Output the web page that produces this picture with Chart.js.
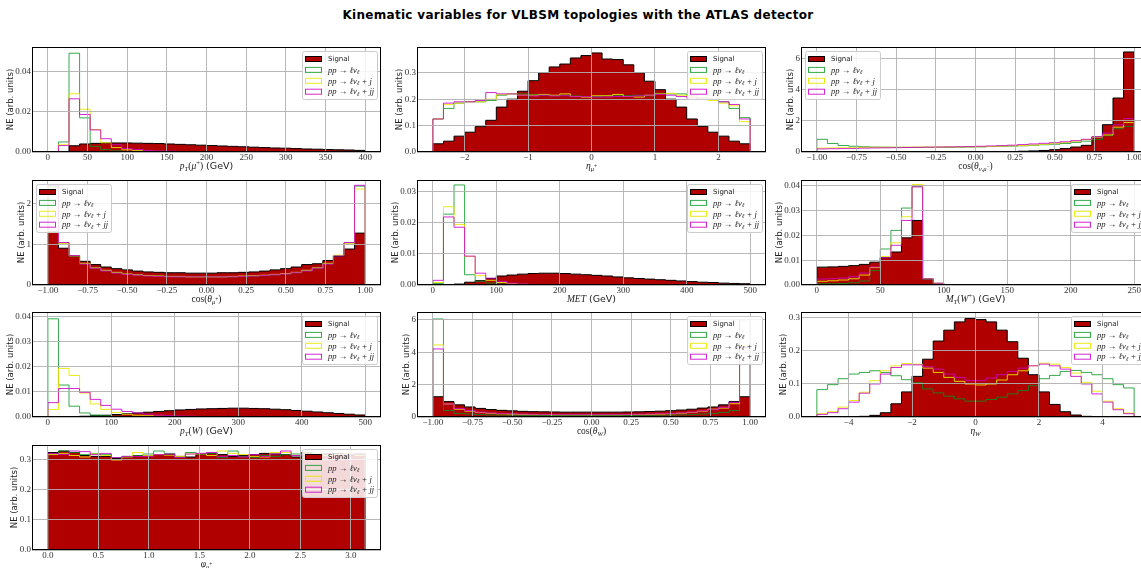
<!DOCTYPE html>
<html lang="en">
<head>
    <meta charset="UTF-8">
    <title>Kinematic variables for VLBSM topologies</title>
    <script src="https://cdn.jsdelivr.net/npm/chart.js"></script>
    <style>
        body { margin: 0; background: #fff; width: 1141px; height: 568px; overflow: hidden; position: relative; }
        h1 {
            position: absolute; left: 0; top: 7px; width: 1156px; margin: 0;
            text-align: center; font: bold 12px "DejaVu Sans", sans-serif; letter-spacing: 0.3px;
            line-height: 17px; color: #000;
        }
    </style>
</head>
<body>
<h1>Kinematic variables for VLBSM topologies with the ATLAS detector</h1>
<script>
// ---- data: 30 bins per histogram, normalised (arb. units) ----
const seriesNames = ['Signal', 'pp → ℓνℓ', 'pp → ℓνℓ + j', 'pp → ℓνℓ + jj'];

// pT(mu+)
const ptMuRange = [0, 400];
const ptMuSig = [0, 0, 0.0031, 0.0040, 0.0043, 0.0045, 0.0045, 0.0045, 0.0044, 0.0043,
    0.0042, 0.0040, 0.0038, 0.0036, 0.0034, 0.0032, 0.0030, 0.0028, 0.0026, 0.0024,
    0.0022, 0.0020, 0.0019, 0.0017, 0.0015, 0.0014, 0.0012, 0.0011, 0.0010, 0.0008];
const ptMuW = [0, 0.0050, 0.0492, 0.0170, 0.0028, 0.0012, 0.0006, 0.0003, 0.0002, 0.0001,
    0.0001, 0, 0, 0, 0, 0, 0, 0, 0, 0,
    0, 0, 0, 0, 0, 0, 0, 0, 0, 0];
const ptMuWj = [0, 0.0036, 0.0290, 0.0213, 0.0112, 0.0046, 0.0022, 0.0011, 0.0007, 0.0004,
    0.0003, 0.0002, 0.0001, 0.0001, 0, 0, 0, 0, 0, 0,
    0, 0, 0, 0, 0, 0, 0, 0, 0, 0];
const ptMuWjj = [0, 0.0032, 0.0265, 0.0187, 0.0110, 0.0066, 0.0036, 0.0017, 0.0012, 0.0008,
    0.0005, 0.0004, 0.0003, 0.0002, 0.0001, 0.0001, 0, 0, 0, 0,
    0, 0, 0, 0, 0, 0, 0, 0, 0, 0];
const ptMuTicksX = [0, 50, 100, 150, 200, 250, 300, 350, 400];
const ptMuTicksY = [0, 0.02, 0.04];

// eta(mu+)
const etaMuRange = [-2.5, 2.5];
const etaMuSig = [0.031, 0.041, 0.060, 0.075, 0.096, 0.120, 0.170, 0.200, 0.230, 0.270,
    0.300, 0.322, 0.333, 0.356, 0.365, 0.375, 0.352, 0.350, 0.330, 0.300,
    0.268, 0.236, 0.200, 0.170, 0.125, 0.097, 0.075, 0.060, 0.041, 0.031];
const etaMuW = [0.125, 0.165, 0.185, 0.190, 0.190, 0.195, 0.215, 0.220, 0.220, 0.218,
    0.215, 0.213, 0.215, 0.212, 0.210, 0.210, 0.213, 0.215, 0.213, 0.215,
    0.213, 0.222, 0.220, 0.220, 0.215, 0.205, 0.200, 0.190, 0.165, 0.130];
const etaMuWj = [0.125, 0.180, 0.185, 0.190, 0.190, 0.200, 0.218, 0.220, 0.215, 0.215,
    0.218, 0.215, 0.220, 0.210, 0.208, 0.213, 0.213, 0.218, 0.210, 0.208,
    0.215, 0.220, 0.222, 0.215, 0.210, 0.200, 0.195, 0.185, 0.175, 0.115];
const etaMuWjj = [0.125, 0.185, 0.190, 0.190, 0.195, 0.225, 0.220, 0.220, 0.215, 0.212,
    0.215, 0.212, 0.213, 0.210, 0.210, 0.208, 0.208, 0.210, 0.210, 0.213,
    0.215, 0.218, 0.215, 0.210, 0.205, 0.200, 0.200, 0.190, 0.180, 0.125];
const etaMuTicksX = [-2, -1, 0, 1, 2];
const etaMuTicksY = [0, 0.1, 0.2, 0.3];

// cos(theta_nu,mu-)
const cosNuMuRange = [-1, 1];
const cosNuMuSig = [0, 0, 0, 0, 0, 0, 0, 0, 0, 0,
    0, 0, 0, 0, 0, 0, 0.01, 0.02, 0.03, 0.05,
    0.07, 0.10, 0.15, 0.22, 0.32, 0.43, 0.97, 1.76, 3.48, 6.45];
const cosNuMuW = [0.82, 0.55, 0.42, 0.37, 0.34, 0.32, 0.31, 0.30, 0.30, 0.30,
    0.30, 0.30, 0.30, 0.31, 0.32, 0.33, 0.35, 0.37, 0.38, 0.40,
    0.43, 0.47, 0.50, 0.55, 0.62, 0.70, 0.80, 1.05, 1.50, 1.65];
const cosNuMuWj = [0.25, 0.26, 0.27, 0.28, 0.30, 0.30, 0.31, 0.31, 0.31, 0.32,
    0.32, 0.32, 0.33, 0.33, 0.33, 0.34, 0.36, 0.38, 0.40, 0.42,
    0.45, 0.50, 0.55, 0.62, 0.70, 0.80, 0.95, 1.10, 1.60, 1.90];
const cosNuMuWjj = [0.20, 0.21, 0.22, 0.23, 0.25, 0.26, 0.27, 0.28, 0.29, 0.30,
    0.31, 0.32, 0.33, 0.34, 0.35, 0.37, 0.39, 0.41, 0.44, 0.48,
    0.52, 0.56, 0.60, 0.66, 0.73, 0.82, 0.98, 1.22, 1.75, 2.15];
const cosTicksX = [-1, -0.75, -0.5, -0.25, 0, 0.25, 0.5, 0.75, 1];
const cosNuMuTicksY = [0, 2, 4, 6];

// cos(theta_mu+)
const cosMuRange = [-1, 1];
const cosMuSig = [1.30, 0.90, 0.70, 0.58, 0.50, 0.44, 0.40, 0.37, 0.34, 0.32,
    0.31, 0.30, 0.30, 0.29, 0.29, 0.29, 0.30, 0.30, 0.31, 0.32,
    0.34, 0.37, 0.40, 0.44, 0.50, 0.52, 0.60, 0.70, 0.88, 1.27];
const cosMuW = [2.42, 1.03, 0.72, 0.52, 0.42, 0.35, 0.30, 0.27, 0.25, 0.23,
    0.22, 0.21, 0.20, 0.20, 0.20, 0.20, 0.20, 0.20, 0.21, 0.22,
    0.23, 0.25, 0.27, 0.30, 0.35, 0.42, 0.52, 0.72, 1.03, 2.42];
const cosMuWj = [2.38, 1.02, 0.71, 0.53, 0.42, 0.36, 0.31, 0.27, 0.25, 0.23,
    0.22, 0.21, 0.21, 0.20, 0.20, 0.20, 0.20, 0.21, 0.22, 0.23,
    0.24, 0.26, 0.28, 0.31, 0.36, 0.42, 0.53, 0.73, 1.02, 2.35];
const cosMuWjj = [2.44, 1.04, 0.72, 0.51, 0.41, 0.34, 0.29, 0.26, 0.24, 0.22,
    0.21, 0.20, 0.20, 0.20, 0.20, 0.20, 0.20, 0.20, 0.21, 0.22,
    0.23, 0.25, 0.27, 0.30, 0.34, 0.41, 0.51, 0.71, 1.04, 2.44];
const cosMuTicksY = [0, 1, 2];

// MET
const metRange = [0, 500];
const metSig = [0, 0.0001, 0.0003, 0.0009, 0.0014, 0.0021, 0.0029, 0.0032, 0.0035, 0.0037,
    0.0038, 0.0038, 0.0037, 0.0035, 0.0033, 0.0031, 0.0029, 0.0026, 0.0023, 0.0021,
    0.0019, 0.0017, 0.0015, 0.0013, 0.0011, 0.0009, 0.0008, 0.0006, 0.0005, 0.0004];
const metW = [0.0005, 0.0228, 0.0322, 0.0033, 0.0012, 0.0006, 0.0003, 0.0001, 0.0001, 0,
    0, 0, 0, 0, 0, 0, 0, 0, 0, 0,
    0, 0, 0, 0, 0, 0, 0, 0, 0, 0];
const metWj = [0.0008, 0.0252, 0.0195, 0.0092, 0.0030, 0.0015, 0.0008, 0.0004, 0.0002, 0.0001,
    0, 0, 0, 0, 0, 0, 0, 0, 0, 0,
    0, 0, 0, 0, 0, 0, 0, 0, 0, 0];
const metWjj = [0.0015, 0.0219, 0.0186, 0.0093, 0.0038, 0.0022, 0.0012, 0.0006, 0.0003, 0.0002,
    0.0001, 0, 0, 0, 0, 0, 0, 0, 0, 0,
    0, 0, 0, 0, 0, 0, 0, 0, 0, 0];
const metTicksX = [0, 100, 200, 300, 400, 500];
const metTicksY = [0, 0.01, 0.02, 0.03];

// MT(W+)
const mtWRange = [0, 250];
const mtWSig = [0.0072, 0.0073, 0.0075, 0.0078, 0.0083, 0.0092, 0.0110, 0.0133, 0.0190, 0.0260,
    0.0023, 0.0005, 0.0001, 0, 0, 0, 0, 0, 0, 0,
    0, 0, 0, 0, 0, 0, 0, 0, 0, 0];
const mtWW = [0.0005, 0.0005, 0.0006, 0.0009, 0.0016, 0.0058, 0.0145, 0.0220, 0.0310, 0.0398,
    0.0025, 0.0007, 0.0002, 0.0001, 0, 0, 0, 0, 0, 0,
    0, 0, 0, 0, 0, 0, 0, 0, 0, 0];
const mtWWj = [0.0015, 0.0017, 0.0020, 0.0025, 0.0040, 0.0070, 0.0115, 0.0170, 0.0275, 0.0405,
    0.0025, 0.0007, 0.0002, 0.0001, 0, 0, 0, 0, 0, 0,
    0, 0, 0, 0, 0, 0, 0, 0, 0, 0];
const mtWWjj = [0.0024, 0.0025, 0.0028, 0.0033, 0.0048, 0.0073, 0.0110, 0.0160, 0.0260, 0.0395,
    0.0025, 0.0007, 0.0002, 0.0001, 0, 0, 0, 0, 0, 0,
    0, 0, 0, 0, 0, 0, 0, 0, 0, 0];
const mtWTicksX = [0, 50, 100, 150, 200, 250];
const mtWTicksY = [0, 0.01, 0.02, 0.03, 0.04];

// pT(W)
const ptWRange = [0, 500];
const ptWSig = [0, 0.0001, 0.0002, 0.0003, 0.0005, 0.0007, 0.0010, 0.0013, 0.0016, 0.0019,
    0.0022, 0.0025, 0.0028, 0.0030, 0.0032, 0.0033, 0.0034, 0.0035, 0.0035, 0.0034,
    0.0033, 0.0031, 0.0029, 0.0026, 0.0023, 0.0020, 0.0017, 0.0014, 0.0011, 0.0008];
const ptWW = [0.0390, 0.0127, 0.0043, 0.0016, 0.0008, 0.0005, 0.0003, 0.0002, 0.0001, 0.0001,
    0, 0, 0, 0, 0, 0, 0, 0, 0, 0,
    0, 0, 0, 0, 0, 0, 0, 0, 0, 0];
const ptWWj = [0.0030, 0.0193, 0.0165, 0.0095, 0.0052, 0.0030, 0.0018, 0.0011, 0.0007, 0.0005,
    0.0003, 0.0002, 0.0001, 0.0001, 0, 0, 0, 0, 0, 0,
    0, 0, 0, 0, 0, 0, 0, 0, 0, 0];
const ptWWjj = [0.0057, 0.0113, 0.0113, 0.0098, 0.0070, 0.0046, 0.0031, 0.0022, 0.0016, 0.0011,
    0.0008, 0.0005, 0.0004, 0.0003, 0.0002, 0.0001, 0.0001, 0, 0, 0,
    0, 0, 0, 0, 0, 0, 0, 0, 0, 0];
const ptWTicksX = [0, 100, 200, 300, 400, 500];
const ptWTicksY = [0, 0.01, 0.02, 0.03, 0.04];

// cos(theta_W)
const cosWRange = [-1, 1];
const cosWSig = [1.25, 0.95, 0.75, 0.62, 0.53, 0.46, 0.41, 0.38, 0.35, 0.33,
    0.32, 0.31, 0.30, 0.30, 0.30, 0.30, 0.30, 0.30, 0.31, 0.32,
    0.34, 0.36, 0.39, 0.43, 0.48, 0.55, 0.62, 0.75, 0.95, 1.25];
const cosWW = [6.05, 0.40, 0.22, 0.18, 0.15, 0.13, 0.12, 0.11, 0.10, 0.10,
    0.09, 0.09, 0.09, 0.09, 0.09, 0.09, 0.09, 0.09, 0.09, 0.10,
    0.10, 0.11, 0.12, 0.13, 0.15, 0.18, 0.22, 0.28, 0.40, 6.00];
const cosWWj = [4.45, 0.80, 0.48, 0.36, 0.28, 0.23, 0.20, 0.18, 0.16, 0.15,
    0.15, 0.14, 0.14, 0.14, 0.14, 0.14, 0.14, 0.14, 0.15, 0.15,
    0.16, 0.18, 0.20, 0.23, 0.28, 0.36, 0.48, 0.55, 0.82, 4.40];
const cosWWjj = [4.20, 0.80, 0.52, 0.40, 0.30, 0.25, 0.22, 0.20, 0.18, 0.17,
    0.16, 0.16, 0.15, 0.15, 0.15, 0.15, 0.15, 0.16, 0.16, 0.17,
    0.18, 0.20, 0.22, 0.25, 0.30, 0.38, 0.45, 0.60, 0.90, 4.30];
const cosWTicksY = [0, 2, 4, 6];

// eta(W)
const etaWRange = [-5, 5];
const etaWSig = [0, 0, 0.0005, 0.001, 0.002, 0.005, 0.013, 0.040, 0.076, 0.123,
    0.175, 0.230, 0.263, 0.288, 0.298, 0.295, 0.288, 0.263, 0.228, 0.178,
    0.128, 0.076, 0.038, 0.016, 0.006, 0.002, 0.001, 0.0005, 0, 0];
const etaWW = [0.083, 0.098, 0.116, 0.130, 0.135, 0.140, 0.135, 0.125, 0.113, 0.104,
    0.085, 0.073, 0.063, 0.055, 0.048, 0.048, 0.053, 0.060, 0.070, 0.080,
    0.095, 0.116, 0.126, 0.138, 0.141, 0.135, 0.128, 0.116, 0.098, 0.088];
const etaWWj = [0.010, 0.016, 0.030, 0.050, 0.075, 0.110, 0.140, 0.155, 0.162, 0.160,
    0.148, 0.135, 0.120, 0.108, 0.100, 0.097, 0.100, 0.112, 0.128, 0.140,
    0.155, 0.163, 0.160, 0.150, 0.133, 0.105, 0.078, 0.048, 0.025, 0.012];
const etaWWjj = [0.008, 0.013, 0.025, 0.045, 0.072, 0.100, 0.130, 0.150, 0.158, 0.158,
    0.152, 0.145, 0.130, 0.120, 0.110, 0.110, 0.118, 0.128, 0.138, 0.148,
    0.155, 0.160, 0.155, 0.145, 0.123, 0.100, 0.070, 0.045, 0.022, 0.010];
const etaWTicksX = [-4, -2, 0, 2, 4];
const etaWTicksY = [0, 0.1, 0.2, 0.3];

// phi(mu+)
const phiMuRange = [0, Math.PI];
const phiMuSig = [0.325, 0.330, 0.325, 0.315, 0.312, 0.312, 0.305, 0.310, 0.315, 0.315,
    0.318, 0.318, 0.312, 0.310, 0.318, 0.322, 0.318, 0.312, 0.315, 0.318,
    0.322, 0.320, 0.318, 0.310, 0.325, 0.320, 0.320, 0.322, 0.315, 0.318];
const phiMuW = [0.320, 0.330, 0.325, 0.318, 0.322, 0.318, 0.308, 0.312, 0.315, 0.320,
    0.330, 0.322, 0.310, 0.325, 0.322, 0.322, 0.308, 0.330, 0.312, 0.308,
    0.315, 0.312, 0.318, 0.320, 0.325, 0.316, 0.320, 0.318, 0.320, 0.318];
const phiMuWj = [0.318, 0.322, 0.315, 0.310, 0.320, 0.315, 0.300, 0.310, 0.325, 0.315,
    0.318, 0.316, 0.312, 0.320, 0.320, 0.315, 0.330, 0.322, 0.318, 0.312,
    0.310, 0.325, 0.325, 0.315, 0.318, 0.322, 0.315, 0.318, 0.322, 0.315];
const phiMuWjj = [0.322, 0.318, 0.330, 0.328, 0.318, 0.322, 0.308, 0.312, 0.312, 0.312,
    0.318, 0.320, 0.308, 0.320, 0.322, 0.325, 0.312, 0.315, 0.310, 0.318,
    0.312, 0.320, 0.330, 0.315, 0.312, 0.318, 0.320, 0.315, 0.318, 0.322];
const phiMuTicksX = [0, 0.5, 1, 1.5, 2, 2.5, 3];
const phiMuTicksY = [0, 0.1, 0.2, 0.3];

// ---- layout / style ----
const COL_X = [32, 417, 801];
const ROW_Y = [47, 180, 312, 445];
const AX_W = 349, AX_H = 105;
const PAD_L = 40, PAD_T = 8, PAD_R = 14, PAD_B = 26;
const SIG_COLOR = '#b10000';
const BG_COLORS = ['rgba(0,150,30,0.8)', 'rgba(232,232,0,0.9)', 'rgba(205,0,205,0.85)'];
const GRID = 'rgba(176,176,176,0.9)';
const SERIF = '"Liberation Serif", serif';
const SANS = '"DejaVu Sans", sans-serif';

const plots = [
    { row: 0, col: 0, range: ptMuRange, s: [ptMuSig, ptMuW, ptMuWj, ptMuWjj], xLim: [-20, 420], yMax: 0.0523,
      xt: ptMuTicksX, yt: ptMuTicksY, xd: 0, yd: 2, leg: 'right',
      xl: [['p', 'i'], ['T', 'b'], ['(', 'r'], ['μ', 'i'], ['+', 'p'], [')', 'r'], [' (GeV)', 's']] },
    { row: 0, col: 1, range: etaMuRange, s: [etaMuSig, etaMuW, etaMuWj, etaMuWjj], xLim: [-2.75, 2.75], yMax: 0.3975,
      xt: etaMuTicksX, yt: etaMuTicksY, xd: 0, yd: 1, leg: 'right',
      xl: [['η', 'i'], ['μ', 'b'], ['+', 'q']] },
    { row: 0, col: 2, range: cosNuMuRange, s: [cosNuMuSig, cosNuMuW, cosNuMuWj, cosNuMuWjj], xLim: [-1.1, 1.1], yMax: 6.77,
      xt: cosTicksX, yt: cosNuMuTicksY, xd: 2, yd: 0, leg: 'left',
      xl: [['cos(', 'r'], ['θ', 'i'], ['ν,μ', 'b'], ['−', 'q'], [')', 'r']] },
    { row: 1, col: 0, range: cosMuRange, s: [cosMuSig, cosMuW, cosMuWj, cosMuWjj], xLim: [-1.1, 1.1], yMax: 2.57,
      xt: cosTicksX, yt: cosMuTicksY, xd: 2, yd: 0, leg: 'left',
      xl: [['cos(', 'r'], ['θ', 'i'], ['μ', 'b'], ['+', 'q'], [')', 'r']] },
    { row: 1, col: 1, range: metRange, s: [metSig, metW, metWj, metWjj], xLim: [-25, 525], yMax: 0.0338,
      xt: metTicksX, yt: metTicksY, xd: 0, yd: 2, leg: 'right',
      xl: [['MET', 'i'], [' (GeV)', 's']] },
    { row: 1, col: 2, range: mtWRange, s: [mtWSig, mtWW, mtWWj, mtWWjj], xLim: [-12.5, 262.5], yMax: 0.0423,
      xt: mtWTicksX, yt: mtWTicksY, xd: 0, yd: 2, leg: 'right',
      xl: [['M', 'i'], ['T', 'b'], ['(', 'r'], ['W', 'i'], ['+', 'p'], [')', 'r'], [' (GeV)', 's']] },
    { row: 2, col: 0, range: ptWRange, s: [ptWSig, ptWW, ptWWj, ptWWjj], xLim: [-25, 525], yMax: 0.0417,
      xt: ptWTicksX, yt: ptWTicksY, xd: 0, yd: 2, leg: 'right',
      xl: [['p', 'i'], ['T', 'b'], ['(', 'r'], ['W', 'i'], [')', 'r'], [' (GeV)', 's']] },
    { row: 2, col: 1, range: cosWRange, s: [cosWSig, cosWW, cosWWj, cosWWjj], xLim: [-1.1, 1.1], yMax: 6.48,
      xt: cosTicksX, yt: cosWTicksY, xd: 2, yd: 0, leg: 'right',
      xl: [['cos(', 'r'], ['θ', 'i'], ['W', 'b'], [')', 'r']] },
    { row: 2, col: 2, range: etaWRange, s: [etaWSig, etaWW, etaWWj, etaWWjj], xLim: [-5.5, 5.5], yMax: 0.318,
      xt: etaWTicksX, yt: etaWTicksY, xd: 0, yd: 1, leg: 'right',
      xl: [['η', 'i'], ['W', 'b']] },
    { row: 3, col: 0, range: phiMuRange, s: [phiMuSig, phiMuW, phiMuWj, phiMuWjj], xLim: [-0.157, 3.299], yMax: 0.35,
      xt: phiMuTicksX, yt: phiMuTicksY, xd: 1, yd: 1, leg: 'right',
      xl: [['φ', 'i'], ['μ', 'b'], ['+', 'q']] }
];

const legendLabels = [
    [['Signal', 's']],
    [['pp → ℓν', 'i'], ['ℓ', 'b']],
    [['pp → ℓν', 'i'], ['ℓ', 'b'], [' + j', 'i']],
    [['pp → ℓν', 'i'], ['ℓ', 'b'], [' + jj', 'i']]
];

function fmt(v, d) {
    return (v < 0 ? '−' : '') + Math.abs(v).toFixed(d);
}

// bin values -> outline points for a stepped line
function histPoints(range, vals) {
    const w = (range[1] - range[0]) / vals.length;
    const pts = [{ x: range[0], y: 0 }];
    vals.forEach((v, i) => pts.push({ x: range[0] + (i + 1) * w, y: v }));
    pts.push({ x: range[1], y: 0 });
    return pts;
}

// mixed text: r roman serif, i italic serif, s sans, b subscript, p superscript, q sup of subscript
function drawRich(ctx, segs, x, y, size, center) {
    const fonts = {
        r: size + 'px ' + SERIF, i: 'italic ' + size + 'px ' + SERIF, s: size + 'px ' + SANS,
        b: 'italic ' + (size * 0.7) + 'px ' + SERIF, p: (size * 0.7) + 'px ' + SERIF, q: (size * 0.55) + 'px ' + SERIF
    };
    const offs = { b: size * 0.28, p: -size * 0.35, q: 0 };
    let total = 0;
    segs.forEach(([t, k]) => { ctx.font = fonts[k]; total += ctx.measureText(t).width; });
    let cx = center ? x - total / 2 : x;
    ctx.textAlign = 'left';
    ctx.textBaseline = 'middle';
    segs.forEach(([t, k]) => {
        ctx.font = fonts[k];
        ctx.fillText(t, cx, y + (offs[k] || 0));
        cx += ctx.measureText(t).width;
    });
}

const decor = {
    id: 'decor',
    afterDraw(chart) {
        const p = chart.options.plugins.decor.p;
        const ctx = chart.ctx, a = chart.chartArea;
        ctx.save();
        // frame
        ctx.strokeStyle = '#000';
        ctx.lineWidth = 1;
        ctx.strokeRect(a.left + 0.5, a.top + 0.5, a.right - a.left - 1, a.bottom - a.top - 1);
        // x label
        ctx.fillStyle = '#222';
        drawRich(ctx, p.xl, (a.left + a.right) / 2, a.bottom + 14.5, 9.5, true);
        // y label
        ctx.font = '9px ' + SERIF;
        const tw = Math.max(...p.yt.map(v => ctx.measureText(fmt(v, p.yd)).width));
        ctx.translate(a.left - tw - 5.5, (a.top + a.bottom) / 2);
        ctx.rotate(-Math.PI / 2);
        ctx.font = '8.5px ' + SANS;
        ctx.textAlign = 'center';
        ctx.textBaseline = 'middle';
        ctx.fillText('NE (arb. units)', 0, 0);
        ctx.setTransform(1, 0, 0, 1, 0, 0);
        // legend
        const lw = 75, lh = 48;
        const lx = p.leg === 'right' ? a.right - 4 - lw : a.left + 4;
        const ly = a.top + 4;
        ctx.fillStyle = 'rgba(255,255,255,0.85)';
        ctx.strokeStyle = '#cccccc';
        ctx.beginPath();
        ctx.roundRect(lx + 0.5, ly + 0.5, lw, lh, 2);
        ctx.fill();
        ctx.stroke();
        legendLabels.forEach((lab, i) => {
            const ry = ly + 8 + i * 10.9;
            if (i === 0) {
                ctx.fillStyle = SIG_COLOR;
                ctx.fillRect(lx + 3, ry - 2.5, 16, 5);
                ctx.strokeStyle = '#000';
            } else {
                ctx.strokeStyle = BG_COLORS[i - 1];
            }
            ctx.strokeRect(lx + 3.5, ry - 2.5, 16, 5);
            ctx.fillStyle = '#222';
            drawRich(ctx, lab, lx + 26, ry + 0.5, i === 0 ? 7 : 8.6, false);
        });
        ctx.restore();
    }
};

function makeChart(p) {
    const cv = document.createElement('canvas');
    const W = PAD_L + AX_W + PAD_R, H = PAD_T + AX_H + PAD_B;
    cv.width = W;
    cv.height = H;
    cv.style.cssText = 'position:absolute;left:' + (COL_X[p.col] - PAD_L) + 'px;top:' + (ROW_Y[p.row] - PAD_T) +
        'px;width:' + W + 'px;height:' + H + 'px';
    document.body.appendChild(cv);

    const datasets = p.s.map((vals, i) => ({
        label: seriesNames[i],
        data: histPoints(p.range, vals),
        stepped: 'after',
        borderColor: i === 0 ? '#000' : BG_COLORS[i - 1],
        backgroundColor: i === 0 ? SIG_COLOR : 'transparent',
        fill: i === 0 ? 'origin' : false,
        borderWidth: 1,
        pointRadius: 0,
        order: 4 - i
    }));
    const tickFont = { family: SERIF, size: 9 };

    new Chart(cv, {
        type: 'line',
        data: { datasets },
        options: {
            responsive: false,
            animation: false,
            devicePixelRatio: 1,
            events: [],
            layout: { padding: { left: 0, top: PAD_T, right: PAD_R, bottom: 0 } },
            plugins: { legend: { display: false }, tooltip: { enabled: false }, decor: { p } },
            scales: {
                x: {
                    type: 'linear', min: p.xLim[0], max: p.xLim[1],
                    afterBuildTicks: s => { s.ticks = p.xt.map(v => ({ value: v })); },
                    afterFit: s => { s.height = PAD_B; },
                    ticks: { font: tickFont, color: '#333', padding: 0, maxRotation: 0, autoSkip: false,
                             callback: v => fmt(v, p.xd) },
                    grid: { color: GRID, lineWidth: 1, drawTicks: false, z: 1 },
                    border: { display: false }
                },
                y: {
                    min: 0, max: p.yMax,
                    afterBuildTicks: s => { s.ticks = p.yt.map(v => ({ value: v })); },
                    afterFit: s => { s.width = PAD_L; },
                    ticks: { font: tickFont, color: '#333', padding: 1, autoSkip: false,
                             callback: v => fmt(v, p.yd) },
                    grid: { color: GRID, lineWidth: 1, drawTicks: false, z: 1 },
                    border: { display: false }
                }
            }
        },
        plugins: [decor]
    });
}

plots.forEach(makeChart);
</script>
</body>
</html>
